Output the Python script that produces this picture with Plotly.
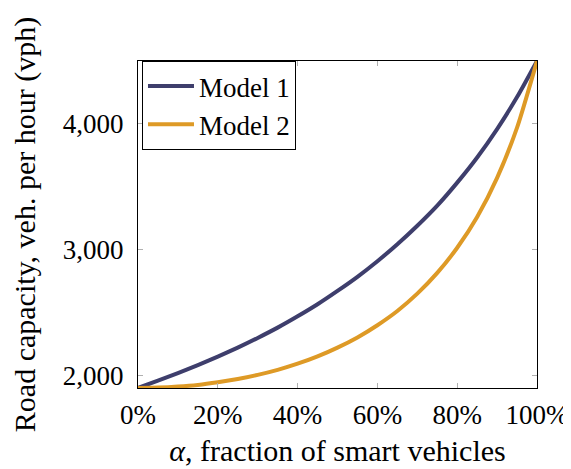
import plotly.graph_objects as go

# fraction of smart vehicles (alpha)
alpha = [0.0, 0.05, 0.1, 0.15, 0.2, 0.25, 0.3, 0.35, 0.4, 0.45, 0.5,
         0.55, 0.6, 0.65, 0.7, 0.75, 0.8, 0.85, 0.9, 0.95, 1.0]

# road capacity (vph)
model_1 = [1900, 1958, 2018, 2082, 2150, 2221, 2298, 2380, 2470, 2566, 2672,
           2784, 2908, 3043, 3190, 3350, 3533, 3733, 3959, 4213, 4500]
model_2 = [1900, 1903, 1911, 1924, 1945, 1971, 2004, 2044, 2093, 2151, 2221,
           2302, 2399, 2512, 2650, 2815, 3015, 3260, 3571, 3970, 4500]

series_names = ['Model 1', 'Model 2']
series_colors = ['#3e3e6c', '#de9a26']

font_family = 'Liberation Serif'

fig = go.Figure()
for name, vals, col in zip(series_names, [model_1, model_2], series_colors):
    fig.add_trace(go.Scatter(x=alpha, y=vals, mode='lines', name=name,
                             line=dict(color=col, width=4, shape='spline', smoothing=0.6)))

fig.update_xaxes(range=[0, 1], tickvals=[0, 0.2, 0.4, 0.6, 0.8, 1.0], tickformat='.0%',
                 showgrid=False, zeroline=False, showline=True, linecolor='black', linewidth=1,
                 mirror='ticks', ticks='inside', ticklen=5, tickcolor='#b0b0b0',
                 tickfont=dict(size=27, color='black'), ticklabelstandoff=3, automargin=False,
                 title=dict(text='<i>α</i>, fraction of smart vehicles',
                            font=dict(size=30, color='black'), standoff=10))
fig.update_yaxes(range=[1900, 4500], tickvals=[2000, 3000, 4000], tickformat=',',
                 showgrid=False, zeroline=False, showline=True, linecolor='black', linewidth=1,
                 mirror='ticks', ticks='inside', ticklen=5, tickcolor='#b0b0b0',
                 tickfont=dict(size=27, color='black'), ticklabelstandoff=8, automargin=False,
                 title=dict(text='Road capacity, veh. per hour (vph)',
                            font=dict(size=30, color='black'), standoff=24))

# page body has an 8px margin, so the figure is 8px smaller than the window
fig.update_layout(width=563, height=461, margin=dict(l=130, r=34, t=53, b=81),
                  plot_bgcolor='white', paper_bgcolor='white',
                  font=dict(family=font_family, color='black'),
                  legend=dict(x=0.01, y=1.0, xanchor='left', yanchor='top',
                              bordercolor='black', borderwidth=1, bgcolor='white',
                              font=dict(size=27), tracegroupgap=0, itemwidth=46))

fig.write_html("out.html")
